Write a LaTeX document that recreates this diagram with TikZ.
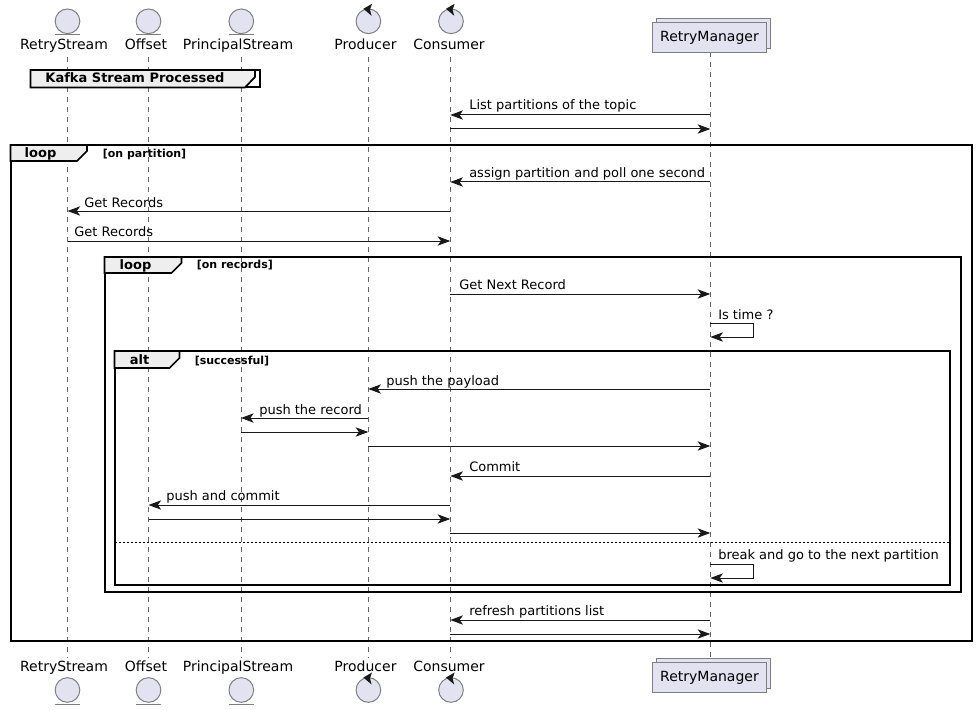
\documentclass[tikz,border=0pt]{standalone}
\usepackage{fontspec}
\setmainfont{DejaVu Sans}
\usetikzlibrary{arrows.meta}
\definecolor{partfill}{HTML}{E2E2F0}
\definecolor{partline}{HTML}{7F7F7F}
\definecolor{tabfill}{HTML}{EEEEEE}
\tikzset{
  lifeline/.style={draw=black!60, line width=0.55pt, dash pattern=on 3.75pt off 3.75pt},
  msg/.style={draw=black!90, line width=0.75pt, -{Stealth[length=9.5pt, width=7pt, inset=2.5pt]}},
  msgtext/.style={anchor=base west, inner sep=0pt, font=\fontsize{9.75}{12}\selectfont},
  parttext/.style={anchor=base, inner sep=0pt, font=\fontsize{10.5}{12}\selectfont},
  partball/.style={circle, draw=partline, fill=partfill, line width=0.75pt, minimum size=18.5pt, inner sep=0pt},
  partbox/.style={draw=partline, fill=partfill, line width=0.75pt},
  framebox/.style={draw=black, line width=1.5pt},
  frametab/.style={draw=black, fill=tabfill, line width=1.3pt},
  tabtext/.style={anchor=base, inner sep=0pt, font=\fontsize{9.75}{12}\selectfont\bfseries},
  guardtext/.style={anchor=base west, inner sep=0pt, font=\fontsize{8.25}{10}\selectfont\bfseries},
  controlhead/.pic={\fill[black!90] (-5,-12.5) -- (3.6,-17.5) -- (1.6,-11.6) -- (3.2,-5.5) -- cycle;}
}
\begin{document}
\begin{tikzpicture}[x=0.75pt, y=-0.75pt]
  \useasboundingbox (0,0) rectangle (976,710);

  % lifelines
  \coordinate (stream) at (67.5,57);
  \coordinate (offset) at (148.5,57);
  \coordinate (principal) at (241,57);
  \coordinate (producer) at (368.3,57);
  \coordinate (consumer) at (450.3,57);
  \coordinate (manager) at (710.3,52);
  \foreach \lane in {stream, offset, principal, producer, consumer, manager}
    \draw[lifeline] (\lane) -- (\lane |- 0,658);

  % top row
  \node[partball] (streamtop) at (67.5,21.3) {};
  \node[partball] (offsettop) at (148.5,21.3) {};
  \node[partball] (principaltop) at (241.3,21.3) {};
  \node[partball] (producertop) at (368.4,21.3) {};
  \node[partball] (consumertop) at (451,21.3) {};
  \draw[partline, line width=0.75pt] (55,35) -- (80,35);
  \draw[partline, line width=0.75pt] (136,35) -- (161,35);
  \draw[partline, line width=0.75pt] (229,35) -- (254,35);
  \pic at (producertop) {controlhead};
  \pic at (consumertop) {controlhead};
  \node[parttext] (streamname) at (64,50) {RetryStream};
  \node[parttext] (offsetname) at (146,50) {Offset};
  \node[parttext] (principalname) at (238,50) {PrincipalStream};
  \node[parttext] (producername) at (365.5,50) {Producer};
  \node[parttext] (consumername) at (449,50) {Consumer};
  \draw[partbox] (656,18.5) rectangle (770.5,48.5);
  \draw[partbox] (652.3,22.5) rectangle (766.5,52.5);
  \node[parttext] (managername) at (709.5,41.7) {RetryManager};

  % bottom row
  \node[partball] (streambot) at (67.5,690) {};
  \node[partball] (offsetbot) at (148.5,690) {};
  \node[partball] (principalbot) at (241.3,690) {};
  \node[partball] (producerbot) at (368.4,690) {};
  \node[partball] (consumerbot) at (451,690) {};
  \draw[partline, line width=0.75pt] (55,704) -- (80,704);
  \draw[partline, line width=0.75pt] (136,704) -- (161,704);
  \draw[partline, line width=0.75pt] (229,704) -- (254,704);
  \pic at (producerbot) {controlhead};
  \pic at (consumerbot) {controlhead};
  \node[parttext] (streamnameb) at (64,671) {RetryStream};
  \node[parttext] (offsetnameb) at (146,671) {Offset};
  \node[parttext] (principalnameb) at (238,671) {PrincipalStream};
  \node[parttext] (producernameb) at (365.5,671) {Producer};
  \node[parttext] (consumernameb) at (449,671) {Consumer};
  \draw[partbox] (656,658) rectangle (770.5,688);
  \draw[partbox] (652.3,662) rectangle (766.5,692);
  \node[parttext] (managernameb) at (709.5,681.7) {RetryManager};

  % frames
  \draw[framebox] (30.5,70) rectangle (259.5,87.5);
  \draw[frametab] (30.5,70) -- (255,70) -- (255,77) -- (245,87.5) -- (30.5,87.5) -- cycle;
  \node[tabtext] (kafkatab) at (135,83) {Kafka Stream Processed};

  \draw[framebox] (10.5,145) rectangle (971.5,641);
  \draw[frametab] (10.5,145) -- (87,145) -- (87,151) -- (77,161) -- (10.5,161) -- cycle;
  \node[tabtext] (outertab) at (40.5,158) {loop};
  \node[guardtext] (outerguard) at (102.5,157) {[on partition]};

  \draw[framebox] (104.5,257) rectangle (961,592);
  \draw[frametab] (104.5,257) -- (181.5,257) -- (181.5,263) -- (171.5,273) -- (104.5,273) -- cycle;
  \node[tabtext] (innertab) at (135.5,269.5) {loop};
  \node[guardtext] (innerguard) at (196.5,268) {[on records]};

  \draw[framebox] (114.5,351) rectangle (950,585);
  \draw[frametab] (114.5,351) -- (179.5,351) -- (179.5,358) -- (169.5,368) -- (114.5,368) -- cycle;
  \node[tabtext] (alttab) at (139.5,364.5) {alt};
  \node[guardtext] (altguard) at (194.5,364) {[successful]};
  \draw[black, line width=0.75pt, dash pattern=on 1.5pt off 1.5pt] (114.5,542) -- (950,542);

  % messages
  \draw[msg] (manager |- 0,115) -- (consumer |- 0,115);
  \node[msgtext] (listtext) at (469,110) {List partitions of the topic};
  \draw[msg] (consumer |- 0,129) -- (manager |- 0,129);
  \draw[msg] (manager |- 0,182) -- (consumer |- 0,182);
  \node[msgtext] (assigntext) at (469,178) {assign partition and poll one second};
  \draw[msg] (consumer |- 0,211) -- (stream |- 0,211);
  \node[msgtext] (recordsin) at (84,207) {Get Records};
  \draw[msg] (stream |- 0,241) -- (consumer |- 0,241);
  \node[msgtext] (recordsout) at (74,236) {Get Records};
  \draw[msg] (consumer |- 0,294) -- (manager |- 0,294);
  \node[msgtext] (nexttext) at (459,289) {Get Next Record};
  \draw[msg] (manager |- 0,323) -- (753,323) -- (753,337) -- (manager |- 0,337);
  \node[msgtext] (timetext) at (718,319) {Is time ?};
  \draw[msg] (manager |- 0,389) -- (producer |- 0,389);
  \node[msgtext] (payloadtext) at (386,385) {push the payload};
  \draw[msg] (producer |- 0,418) -- (principal |- 0,418);
  \node[msgtext] (recordtext) at (259,414) {push the record};
  \draw[msg] (principal |- 0,432) -- (producer |- 0,432);
  \draw[msg] (producer |- 0,446) -- (manager |- 0,446);
  \draw[msg] (manager |- 0,476) -- (consumer |- 0,476);
  \node[msgtext] (committext) at (469,471) {Commit};
  \draw[msg] (consumer |- 0,505) -- (offset |- 0,505);
  \node[msgtext] (pushcommit) at (166,500) {push and commit};
  \draw[msg] (offset |- 0,519) -- (consumer |- 0,519);
  \draw[msg] (consumer |- 0,533) -- (manager |- 0,533);
  \draw[msg] (manager |- 0,564) -- (753,564) -- (753,578) -- (manager |- 0,578);
  \node[msgtext] (breaktext) at (718,559) {break and go to the next partition};
  \draw[msg] (manager |- 0,620) -- (consumer |- 0,620);
  \node[msgtext] (refreshtext) at (469,615) {refresh partitions list};
  \draw[msg] (consumer |- 0,634) -- (manager |- 0,634);
\end{tikzpicture}
\end{document}
